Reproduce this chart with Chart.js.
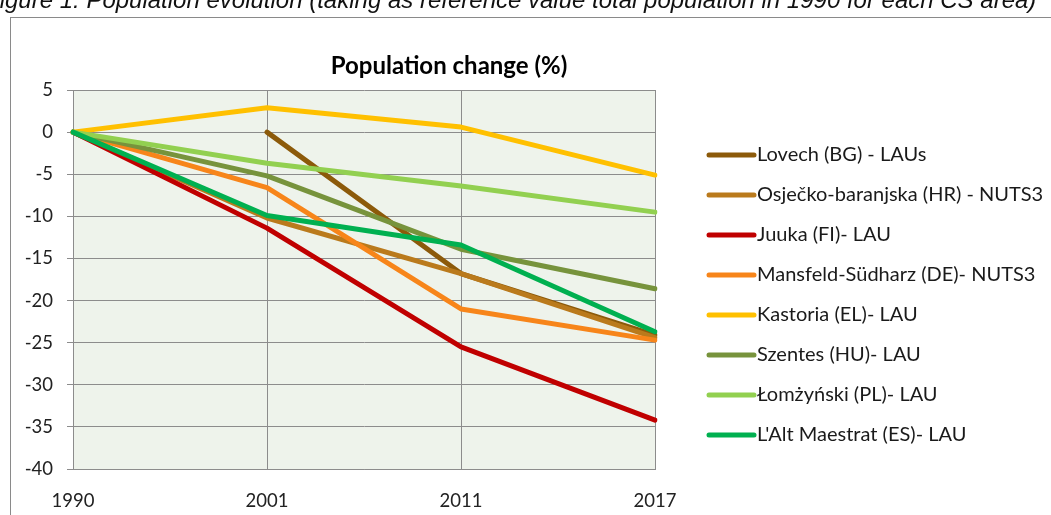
<!DOCTYPE html>
<html>
<head>
<meta charset="utf-8">
<script src="https://cdn.jsdelivr.net/npm/chart.js@4"></script>
<style>
  html, body { margin: 0; padding: 0; background: #ffffff; }
  #wrap { width: 1051px; height: 515px; position: relative; overflow: hidden; }
</style>
</head>
<body>
<div id="wrap"><canvas id="c" width="1051" height="515"></canvas></div>
<script>
// Years on the horizontal axis
const years = ['1990', '2001', '2011', '2017'];

// Population change (%) relative to 1990, per case-study area
const lovech      = [null, 0, -16.8, -24.1];
const osijek      = [0, -10.2, -16.8, -24.4];
const juuka       = [0, -11.4, -25.5, -34.2];
const mansfeld    = [0, -6.6, -21.0, -24.7];
const kastoria    = [0, 2.9, 0.6, -5.1];
const szentes     = [0, -5.2, -13.9, -18.6];
const lomzynski   = [0, -3.7, -6.4, -9.5];
const altMaestrat = [0, -9.9, -13.4, -23.7];

// Series names
const seriesNames = [
  'Lovech (BG) - LAUs',
  'Osječko-baranjska (HR) - NUTS3',
  'Juuka (FI)- LAU',
  'Mansfeld-Südharz (DE)- NUTS3',
  'Kastoria (EL)- LAU',
  'Szentes (HU)- LAU',
  'Łomżyński (PL)- LAU',
  "L'Alt Maestrat (ES)- LAU"
];
const seriesValues = [lovech, osijek, juuka, mansfeld, kastoria, szentes, lomzynski, altMaestrat];
const seriesColors = ['#8C5A0A', '#BA7A1C', '#C00000', '#F7851A', '#FFC000', '#77933C', '#92D050', '#00B050'];

// Y axis range
const yMin = -40, yMax = 5, yStep = 5;

const TEXT_FONT = 'Lato';

const datasets = seriesValues.map((vals, i) => ({
  label: seriesNames[i],
  data: vals,
  borderColor: seriesColors[i],
  backgroundColor: seriesColors[i],
  borderWidth: 5,
  pointRadius: 0,
  pointHoverRadius: 0,
  tension: 0,
  fill: false,
  borderJoinStyle: 'round',
  borderCapStyle: 'round',
  // later series are painted over earlier ones
  order: seriesValues.length - i
}));

const decorations = {
  id: 'decorations',
  beforeDraw(chart) {
    const ctx = chart.ctx;
    const a = chart.chartArea;
    ctx.save();
    ctx.fillStyle = '#ffffff';
    ctx.fillRect(0, 0, chart.width, chart.height);
    // figure caption (clipped by the page top)
    ctx.fillStyle = '#111111';
    ctx.font = 'italic 24px "Liberation Sans"';
    ctx.textBaseline = 'alphabetic';
    ctx.textAlign = 'left';
    ctx.fillText('Figure 1: Population evolution (taking as reference value total population in 1990 for each CS area)', -15, 8);
    // chart frame
    ctx.strokeStyle = '#8a8a8a';
    ctx.lineWidth = 1;
    ctx.strokeRect(10.5, 17.5, chart.width + 20, chart.height + 20);
    // plot background
    ctx.fillStyle = '#EEF3EB';
    ctx.fillRect(a.left, a.top, a.right - a.left, a.bottom - a.top);
    ctx.restore();
  },
  afterDraw(chart) {
    const ctx = chart.ctx;
    ctx.save();
    // title
    ctx.fillStyle = '#000000';
    ctx.font = 'bold 24px ' + TEXT_FONT;
    ctx.textAlign = 'center';
    ctx.textBaseline = 'middle';
    ctx.fillText('Population change (%)', 449, 66);
    // legend
    ctx.font = '20px ' + TEXT_FONT;
    ctx.textAlign = 'left';
    chart.data.datasets.forEach((ds, i) => {
      const y = 155 + i * 40;
      ctx.strokeStyle = ds.borderColor;
      ctx.lineWidth = 5;
      ctx.lineCap = 'round';
      ctx.beginPath();
      ctx.moveTo(709, y);
      ctx.lineTo(754, y);
      ctx.stroke();
      ctx.fillStyle = '#1a1a1a';
      ctx.fillText(ds.label, 757, y);
    });
    ctx.restore();
  }
};

new Chart(document.getElementById('c'), {
  type: 'line',
  data: { labels: years, datasets },
  options: {
    responsive: false,
    animation: false,
    layout: { padding: { left: 0, top: 90, right: 396, bottom: 0 } },
    plugins: {
      legend: { display: false },
      title: { display: false },
      tooltip: { enabled: false }
    },
    scales: {
      x: {
        type: 'category',
        offset: false,
        afterFit(s) { s.height = 46; },
        grid: { color: '#8c8c8c', lineWidth: 1, drawTicks: false },
        border: { color: '#8c8c8c' },
        ticks: { color: '#222222', font: { family: TEXT_FONT, size: 18.5 }, padding: 21, maxRotation: 0 }
      },
      y: {
        min: yMin,
        max: yMax,
        afterFit(s) { s.width = 73; },
        grid: { color: '#8c8c8c', lineWidth: 1, tickLength: 6 },
        border: { color: '#8c8c8c' },
        ticks: { stepSize: yStep, color: '#222222', font: { family: TEXT_FONT, size: 18.5 }, padding: 14 }
      }
    }
  },
  plugins: [decorations]
});
</script>
</body>
</html>
